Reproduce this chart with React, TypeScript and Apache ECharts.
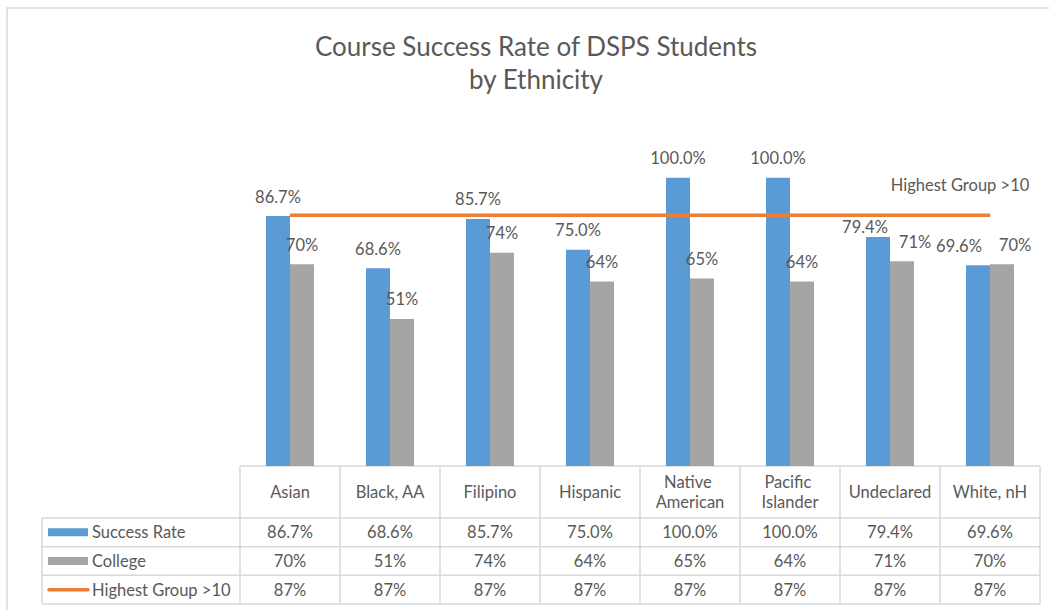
import React, { useEffect, useRef } from "react";
import * as echarts from "echarts";

const categories = ["Asian", "Black, AA", "Filipino", "Hispanic", "Native American", "Pacific Islander", "Undeclared", "White, nH"];
const successRate = [86.7, 68.6, 85.7, 75.0, 100.0, 100.0, 79.4, 69.6];
const college = [70, 51, 74, 64, 65, 64, 71, 70];
const highestGroup = [87, 87, 87, 87, 87, 87, 87, 87];
const seriesNames = ["Success Rate", "College", "Highest Group >10"];

// label nudges (layout only) for crowded categories, as in the original
const successLabelOffset: Record<number, number[]> = { 6: [-13, 9], 7: [-19, 0] };
const collegeLabelOffset: Record<number, number[]> = { 6: [13, 0], 7: [13, 0] };

const BLUE = "#5B9BD5";
const GRAY = "#A5A5A5";
const ORANGE = "#ED7D31";
const TEXT = "#595959";
const BORDER = "#D9D9D9";
const FONT = "Lato, 'Open Sans', sans-serif";
const FS = 16.5;

export default function App() {
  const ref = useRef<HTMLDivElement>(null);
  useEffect(() => {
    if (!ref.current) return;
    const chart = echarts.init(ref.current, null, { renderer: "svg" });

    const W = 1049;
    const gridLeft = 240;
    const gridRight = 1040;
    const axisY = 466;
    const tableLeft = 42;
    const rowTops = [518, 546.7, 575.3];
    const tableBottom = 604;
    const colW = (gridRight - gridLeft) / categories.length;

    const g: any[] = [];
    g.push({ type: "rect", shape: { x: 7, y: 8, width: 1100, height: 700 }, style: { fill: "none", stroke: BORDER, lineWidth: 1.5 }, silent: true });
    g.push({ type: "line", shape: { x1: gridLeft, y1: axisY, x2: gridRight, y2: axisY }, style: { stroke: BORDER, lineWidth: 1.5 } });
    [...rowTops, tableBottom].forEach((y) => {
      g.push({ type: "line", shape: { x1: tableLeft, y1: y, x2: gridRight, y2: y }, style: { stroke: BORDER, lineWidth: 1.5 } });
    });
    g.push({ type: "line", shape: { x1: tableLeft, y1: rowTops[0], x2: tableLeft, y2: tableBottom }, style: { stroke: BORDER, lineWidth: 1.5 } });
    for (let i = 0; i <= categories.length; i++) {
      const x = gridLeft + i * colW;
      g.push({ type: "line", shape: { x1: x, y1: axisY, x2: x, y2: tableBottom }, style: { stroke: BORDER, lineWidth: 1.5 } });
    }
    const rowValues = [
      successRate.map((v) => v.toFixed(1) + "%"),
      college.map((v) => v + "%"),
      highestGroup.map((v) => v + "%"),
    ];
    const rowBottoms = [rowTops[1], rowTops[2], tableBottom];
    rowValues.forEach((vals, r) => {
      const cy = (rowTops[r] + rowBottoms[r]) / 2;
      vals.forEach((t, i) => {
        g.push({ type: "text", x: gridLeft + (i + 0.5) * colW, y: cy, style: { text: t, fill: TEXT, font: `${FS}px ${FONT}`, align: "center", verticalAlign: "middle" } });
      });
      if (r < 2) {
        g.push({ type: "rect", shape: { x: 48, y: cy - 4, width: 40, height: 8 }, style: { fill: r === 0 ? BLUE : GRAY } });
      } else {
        g.push({ type: "line", shape: { x1: 49, y1: cy, x2: 88, y2: cy }, style: { stroke: ORANGE, lineWidth: 3.5, lineCap: "round" } });
      }
      g.push({ type: "text", x: 92, y: cy, style: { text: seriesNames[r], fill: TEXT, font: `${FS}px ${FONT}`, align: "left", verticalAlign: "middle" } });
    });

    const last = highestGroup.length - 1;
    const labelBase = { show: true, position: "top", distance: 11, color: TEXT, fontFamily: FONT, fontSize: FS };
    chart.setOption({
      animation: false,
      backgroundColor: "#fff",
      title: {
        text: "Course Success Rate of DSPS Students\nby Ethnicity",
        left: 531,
        textAlign: "center",
        top: 24,
        textStyle: { fontFamily: FONT, fontSize: 26, fontWeight: "normal", color: TEXT, lineHeight: 33 },
      },
      grid: { left: gridLeft, right: W - gridRight, top: 120, bottom: 610 - axisY },
      xAxis: {
        type: "category",
        data: categories,
        axisLine: { show: false },
        axisTick: { show: false },
        axisLabel: {
          interval: 0,
          margin: 26,
          verticalAlign: "middle",
          color: TEXT,
          fontFamily: FONT,
          fontSize: FS,
          lineHeight: 20,
          width: 92,
          overflow: "break",
        },
      },
      yAxis: { type: "value", min: 0, max: 120, show: false, splitLine: { show: false } },
      series: [
        {
          name: seriesNames[0],
          type: "bar",
          data: successRate.map((v, i) => (successLabelOffset[i] ? { value: v, label: { offset: successLabelOffset[i] } } : v)),
          barWidth: 24,
          barGap: "0%",
          itemStyle: { color: BLUE },
          label: { ...labelBase, formatter: (p: any) => Number(p.value).toFixed(1) + "%" },
        },
        {
          name: seriesNames[1],
          type: "bar",
          data: college.map((v, i) => (collegeLabelOffset[i] ? { value: v, label: { offset: collegeLabelOffset[i] } } : v)),
          barWidth: 24,
          barGap: "0%",
          itemStyle: { color: GRAY },
          label: { ...labelBase, formatter: (p: any) => p.value + "%" },
        },
        {
          name: seriesNames[2],
          type: "line",
          data: highestGroup.map((v, i) =>
            i === last
              ? { value: v, label: { show: true, position: "top", offset: [-30, -16], color: TEXT, fontFamily: FONT, fontSize: FS, formatter: seriesNames[2] } }
              : v
          ),
          symbol: "circle",
          symbolSize: 1,
          showSymbol: true,
          itemStyle: { color: ORANGE },
          lineStyle: { color: ORANGE, width: 3.5 },
          z: 5,
        },
      ],
      graphic: g,
    });
    return () => chart.dispose();
  }, []);
  return <div ref={ref} style={{ position: "fixed", left: 0, top: 0, width: 1049, height: 610 }} />;
}
